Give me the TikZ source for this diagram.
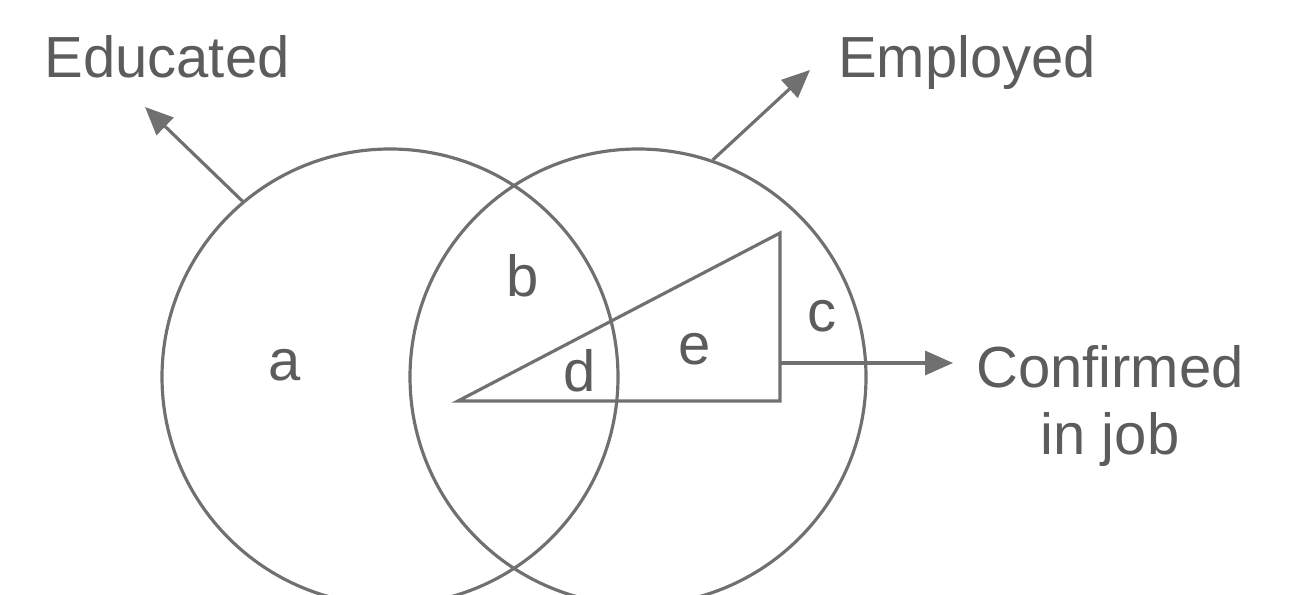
\documentclass[tikz,border=0pt]{standalone}
\usepackage{fontspec}
\setmainfont{Liberation Sans}
\definecolor{linegray}{HTML}{707070}
\definecolor{textgray}{HTML}{5C5C5C}
\usepackage{tikz}
\usetikzlibrary{positioning, arrows.meta, calc}
\tikzset{
	setnode/.style={
			circle,
			draw=linegray,
			line width=0.9pt,
			minimum size=45.6mm,
			inner sep=0pt
		},
	labelnode/.style={
			text=textgray,
			font=\fontsize{16.5}{19.3}\selectfont,
			inner sep=0pt,
			anchor=base
		},
	regionnode/.style={
			labelnode
		},
	pointer/.style={
			draw=linegray,
			line width=0.9pt,
			-{Triangle[length=2.8mm, width=2.4mm]}
		}
}

\begin{document}
\begin{tikzpicture}
\useasboundingbox (0,0) rectangle (12.91,5.95);
\clip (0,0) rectangle (12.91,5.95);
\node[setnode] (edu) at (3.90,2.18) {};
\node[setnode] (emp) at (6.38,2.18) {};

\coordinate (tip) at (4.58,1.94);
\coordinate (corner) at (7.80,1.94);
\coordinate (top) at (7.80,3.62);
\draw[linegray, line width=0.9pt, line join=miter] (tip) -- (corner) -- (top) -- cycle;

\node[labelnode] (edulabel) at (1.67,5.17) {Educated};
\node[labelnode] (emplabel) at (9.67,5.17) {Employed};
\node[labelnode, align=center] (conflabel) at (11.10,1.40) {Confirmed\\in job};

\node[regionnode] (ra) at (2.85,2.14) {a};
\node[regionnode] (rb) at (5.23,2.98) {b};
\node[regionnode] (rc) at (8.22,2.63) {c};
\node[regionnode] (rd) at (5.80,2.03) {d};
\node[regionnode] (re) at (6.95,2.30) {e};

\coordinate (edutip) at (1.45,4.88);
\coordinate (emptip) at (8.10,5.25);
\coordinate (confstart) at (7.80,2.32);
\coordinate (conftip) at (9.53,2.32);

\draw[pointer] (edu.130) -- (edutip);
\draw[pointer] (emp.71) -- (emptip);
\draw[pointer] (confstart) -- (conftip);
\end{tikzpicture}
\end{document}
